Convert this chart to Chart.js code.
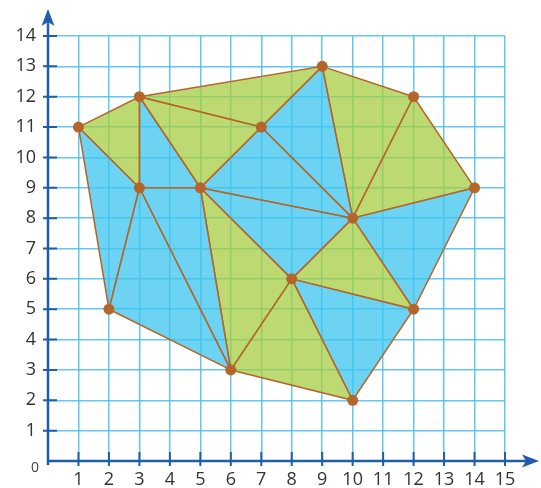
<!DOCTYPE html>
<html>
<head>
<meta charset="utf-8">
<script src="https://cdn.jsdelivr.net/npm/chart.js@4"></script>
<style>
  html, body { margin: 0; padding: 0; background: #fff; }
  #wrap { width: 541px; height: 488px; }
</style>
</head>
<body>
<div id="wrap"><canvas id="chart"></canvas></div>
<script>
// vertices of the triangulation
const vertexX = [1, 3, 9, 12, 14, 12, 10, 6, 2, 3, 5, 7, 10, 8];
const vertexY = [11, 12, 13, 12, 9, 5, 2, 3, 5, 9, 9, 11, 8, 6];

// triangles as vertex indices, with their colour ('g' green, 'b' blue)
const triangles = [
    [0, 1, 9], [0, 9, 8], [8, 9, 7], [9, 10, 7], [9, 1, 10],
    [1, 10, 11], [1, 11, 2], [11, 2, 12], [10, 11, 12], [10, 12, 13],
    [10, 13, 7], [7, 13, 6], [13, 6, 5], [13, 5, 12], [12, 5, 4],
    [12, 4, 3], [2, 3, 12]
];
const triangleColors = ['g', 'b', 'b', 'b', 'b', 'g', 'g', 'b', 'b', 'b', 'g', 'g', 'b', 'g', 'b', 'g', 'g'];

const xTicks = [1, 2, 3, 4, 5, 6, 7, 8, 9, 10, 11, 12, 13, 14, 15];
const yTicks = [1, 2, 3, 4, 5, 6, 7, 8, 9, 10, 11, 12, 13, 14];

const GREEN = 'rgba(166, 206, 66, 0.75)';
const BLUE = 'rgba(60, 196, 239, 0.75)';
const EDGE = '#b5652a';
const AXIS = '#1f5cab';
const GRID = 'rgba(70, 190, 240, 0.85)';

const datasets = triangles.map((t, i) => {
    const pts = t.concat([t[0]]).map(k => ({ x: vertexX[k], y: vertexY[k] }));
    return {
        data: pts,
        order: 1,
        showLine: true,
        fill: 'shape',
        backgroundColor: triangleColors[i] === 'g' ? GREEN : BLUE,
        borderColor: EDGE,
        borderWidth: 1.5,
        pointRadius: 0,
        tension: 0,
    };
});
// vertex dots on top of every triangle
datasets.push({
    data: vertexX.map((x, i) => ({ x: x, y: vertexY[i] })),
    order: 0,
    showLine: false,
    pointRadius: 5.5,
    pointBackgroundColor: EDGE,
    pointBorderColor: EDGE,
    pointBorderWidth: 0,
});

// axes with arrows and tick marks
const axesPlugin = {
    id: 'axes',
    afterDraw(chart) {
        const ctx = chart.ctx;
        const x0 = chart.scales.x.getPixelForValue(0);
        const y0 = chart.scales.y.getPixelForValue(0);
        ctx.save();
        ctx.strokeStyle = AXIS;
        ctx.fillStyle = AXIS;
        ctx.lineWidth = 2.5;
        ctx.beginPath();
        ctx.moveTo(x0, y0 + 4);
        ctx.lineTo(x0, 20);
        ctx.moveTo(x0, y0);
        ctx.lineTo(528, y0);
        ctx.stroke();
        // arrow heads
        ctx.beginPath();
        ctx.moveTo(x0, 9);
        ctx.lineTo(x0 + 6.5, 26);
        ctx.lineTo(x0, 22);
        ctx.lineTo(x0 - 6.5, 26);
        ctx.closePath();
        ctx.fill();
        ctx.beginPath();
        ctx.moveTo(539, y0);
        ctx.lineTo(522, y0 - 6.5);
        ctx.lineTo(526, y0);
        ctx.lineTo(522, y0 + 6.5);
        ctx.closePath();
        ctx.fill();
        // tick marks
        ctx.lineWidth = 2;
        ctx.beginPath();
        xTicks.forEach(v => {
            const px = chart.scales.x.getPixelForValue(v);
            ctx.moveTo(px, y0 - 9);
            ctx.lineTo(px, y0 + 5);
        });
        yTicks.forEach(v => {
            const py = chart.scales.y.getPixelForValue(v);
            ctx.moveTo(x0 - 5, py);
            ctx.lineTo(x0 + 9, py);
        });
        ctx.stroke();
        // origin label
        ctx.fillStyle = '#444';
        ctx.font = '14px "Open Sans"';
        ctx.textAlign = 'center';
        ctx.textBaseline = 'middle';
        ctx.fillText('0', 35, 468);
        ctx.restore();
    }
};

const ctx = document.getElementById('chart').getContext('2d');
new Chart(ctx, {
    type: 'scatter',
    data: { datasets: datasets },
    options: {
        responsive: true,
        maintainAspectRatio: false,
        animation: false,
        layout: { padding: { top: 36, right: 36, bottom: 0, left: 0 } },
        plugins: {
            legend: { display: false },
            tooltip: { enabled: false },
        },
        scales: {
            x: {
                type: 'linear',
                min: 0,
                max: 15,
                afterFit: s => { s.height = 27; },
                afterBuildTicks: s => { s.ticks = [0].concat(xTicks).map(v => ({ value: v })); },
                ticks: {
                    padding: 8,
                    color: '#333',
                    font: { family: 'Open Sans', size: 18 },
                    callback: v => (v === 0 ? '' : v),
                },
                grid: { color: GRID, lineWidth: 1.5, drawTicks: false },
                border: { display: false },
            },
            y: {
                type: 'linear',
                min: 0,
                max: 14,
                afterFit: s => { s.width = 48; },
                afterBuildTicks: s => { s.ticks = [0].concat(yTicks).map(v => ({ value: v })); },
                ticks: {
                    padding: 12,
                    color: '#333',
                    font: { family: 'Open Sans', size: 18 },
                    callback: v => (v === 0 ? '' : v),
                },
                grid: { color: GRID, lineWidth: 1.5, drawTicks: false },
                border: { display: false },
            },
        },
    },
    plugins: [axesPlugin],
});
</script>
</body>
</html>
